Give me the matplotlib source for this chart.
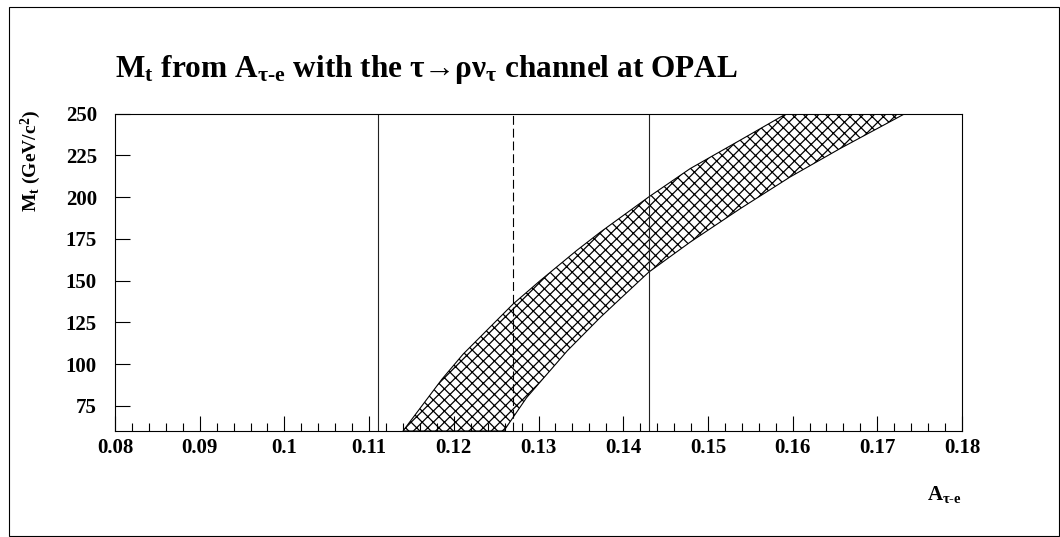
import numpy as np
import matplotlib
matplotlib.use("Agg")
import matplotlib.pyplot as plt
from matplotlib.ticker import MultipleLocator, FormatStrFormatter
from matplotlib.patches import Rectangle

plt.rcParams['font.family'] = ['Liberation Serif', 'DejaVu Serif']
plt.rcParams['font.weight'] = 'bold'
plt.rcParams['mathtext.fontset'] = 'custom'
plt.rcParams['mathtext.rm'] = 'Liberation Serif:bold'
plt.rcParams['mathtext.default'] = 'regular'
plt.rcParams['hatch.linewidth'] = 0.9

# allowed band: edge for the upper M_t limit and edge for the lower one
upper_a = [0.1140, 0.1186, 0.1211, 0.1270, 0.1302, 0.1345, 0.1373, 0.1430, 0.1479, 0.1538, 0.1593]
upper_m = [60, 91, 106, 136, 150, 168, 179, 200, 217, 234, 250]
lower_a = [0.1259, 0.1286, 0.1334, 0.1373, 0.1430, 0.1479, 0.1538, 0.1597, 0.1656, 0.1733]
lower_m = [60, 80, 108, 128, 155, 173, 193, 212, 229, 250]

# measured asymmetry: central value and +-1 sigma
a_meas = 0.127
a_lo, a_hi = 0.111, 0.143

xticks = [0.08, 0.09, 0.10, 0.11, 0.12, 0.13, 0.14, 0.15, 0.16, 0.17, 0.18]
yticks = [75, 100, 125, 150, 175, 200, 225, 250]

fig = plt.figure(figsize=(10.6, 5.37), dpi=100)
ax = fig.add_axes([115/1060, 1 - 431/537, 847/1060, 317.5/537])

poly_a = np.concatenate([upper_a, lower_a[::-1]])
poly_m = np.concatenate([upper_m, lower_m[::-1]])
ax.fill(poly_a, poly_m, facecolor='none', edgecolor='black', hatch='xxx', lw=0.8)

ax.axvline(a_lo, color='#222222', lw=0.8)
ax.axvline(a_hi, color='#222222', lw=0.8)
ax.axvline(a_meas, color='black', lw=0.8, dashes=(8, 3.5))

ax.set_xlim(0.08, 0.18)
ax.set_ylim(60, 250)
ax.set_xticks(xticks)
ax.set_yticks(yticks)
ax.xaxis.set_major_formatter(FormatStrFormatter('%g'))
ax.xaxis.set_minor_locator(MultipleLocator(0.002))
ax.tick_params(which='both', direction='in', width=0.8, top=False, right=False, labelsize=15)
ax.tick_params(axis='x', which='major', length=11, pad=5)
ax.tick_params(axis='x', which='minor', length=5.5)
ax.tick_params(axis='y', which='major', length=11, pad=13)
for s in ax.spines.values():
    s.set_linewidth(0.8)

fig.text(115/1060, 1 - 77/537, 'M$_\\mathregular{t}$ from A$_\\mathregular{τ‐e}$ with the τ→ρν$_\\mathregular{τ}$ channel at OPAL',
         fontsize=22.5, ha='left', va='baseline')
fig.text(31/1060, 1 - 110/537, 'M$_\\mathregular{t}$ (GeV/c$^\\mathregular{2}$)', fontsize=14,
         rotation=90, ha='center', va='top')
fig.text(962/1060, 1 - 500/537, 'A$_\\mathregular{τ‐e}$', fontsize=15, ha='right', va='baseline')

fig.add_artist(Rectangle((9/1060, 1/537), 1050/1060, 529/537, transform=fig.transFigure,
                         fill=False, lw=0.8, edgecolor='black'))

fig.savefig('out.png', dpi=100)
